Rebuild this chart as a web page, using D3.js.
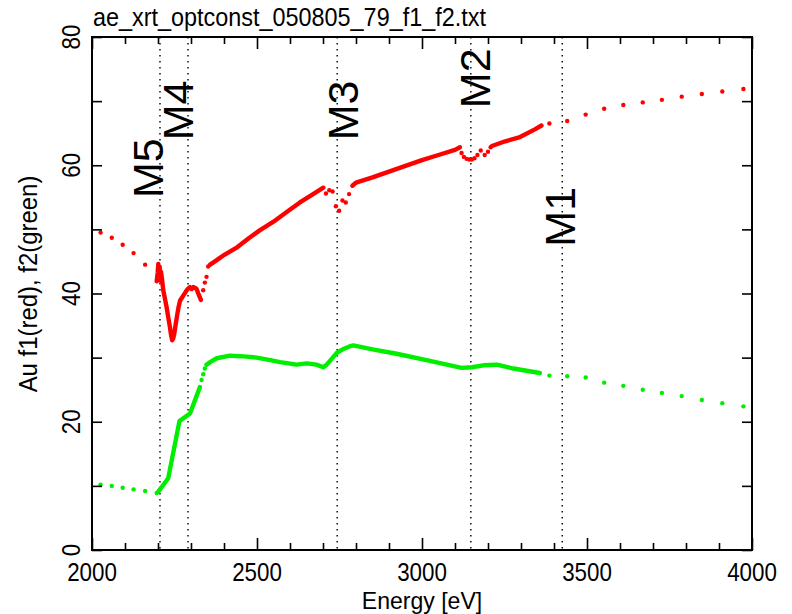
<!DOCTYPE html>
<html>
<head>
<meta charset="utf-8">
<script src="https://cdn.jsdelivr.net/npm/d3@7"></script>
<style>
  body { margin: 0; background: #fff; }
  text { font-family: 'Liberation Sans', Arial, sans-serif; fill: #000; }
</style>
</head>
<body>
<div id="chart"></div>
<script>
// values
var title = 'ae_xrt_optconst_050805_79_f1_f2.txt';
var xTicks = [2000, 2500, 3000, 3500, 4000];
var yTicks = [0, 20, 40, 60, 80];
var edgeNames = ['M5', 'M4', 'M3', 'M2', 'M1'];
var edgeEnergy = [2206, 2291, 2743, 3148, 3425];
var edgeLabelE = [2215, 2306, 2806, 3206, 3464];
var edgeLabelV = [54.9, 63.9, 63.9, 68.9, 47.3];

// f1 (red): lone dots, and runs dense enough to look like a thick line
var f1Dots = [
  [2026, 49.5], [2060, 48.7], [2093, 47.6], [2126, 46.3], [2161, 44.5],
  [2337, 40.5], [2342, 41.7], [2347, 42.6], [2352, 44.2],
  [2709, 55.6], [2719, 56.1], [2729, 55.9], [2739, 53.6], [2749, 52.9],
  [2759, 54.5], [2769, 54.2], [2779, 55.5],
  [3120, 61.9], [3127, 61.3], [3135, 61.0], [3143, 60.9], [3151, 60.9],
  [3159, 61.1], [3168, 61.6], [3178, 62.3], [3190, 61.6], [3200, 62.1], [3208, 62.8],
  [3386, 66.5], [3440, 66.9], [3496, 67.9], [3552, 68.8], [3610, 69.4],
  [3669, 69.8], [3727, 70.2], [3787, 70.7], [3848, 71.1], [3910, 71.5], [3974, 71.9]
];
var f1Runs = [
  [[2196, 41.9], [2199, 43.2], [2201, 44.6], [2203, 43.0], [2205, 44.2], [2207, 42.0],
   [2209, 43.4], [2212, 42.3], [2216, 40.5], [2221, 39.2], [2226, 37.9], [2231, 36.3],
   [2236, 34.8], [2240, 33.4], [2243, 32.7], [2246, 33.0], [2249, 33.6], [2253, 35.0],
   [2257, 36.3], [2262, 37.8], [2267, 38.9], [2272, 39.3], [2277, 39.7], [2282, 40.1],
   [2287, 40.5], [2292, 40.8], [2297, 41.0], [2302, 40.7], [2307, 41.0], [2312, 40.9],
   [2317, 40.7], [2322, 40.0], [2326, 39.5], [2330, 39.0]],
  [[2358, 44.5], [2378, 45.2], [2397, 45.9], [2437, 47.1], [2477, 48.7], [2507, 49.8],
   [2550, 51.2], [2590, 52.7], [2630, 54.2], [2670, 55.5], [2701, 56.5]],
  [[2789, 56.8], [2800, 57.3], [2850, 58.1], [2900, 59.0], [2950, 59.9], [3000, 60.8],
   [3050, 61.6], [3100, 62.4], [3115, 62.8]],
  [[3212, 63.0], [3250, 63.7], [3297, 64.4], [3342, 65.6], [3362, 66.2]]
];

// f2 (green)
var f2Dots = [
  [2026, 10.2], [2060, 10.0], [2093, 9.7], [2126, 9.45], [2161, 9.2], [2196, 8.9],
  [2332, 26.5], [2337, 27.4], [2342, 28.3],
  [3386, 27.2], [3440, 27.1], [3496, 26.9], [3552, 26.1], [3610, 25.6],
  [3669, 25.0], [3727, 24.5], [3787, 24.0], [3848, 23.4], [3910, 22.9], [3974, 22.4]
];
var f2Runs = [
  [[2201, 9.1], [2231, 11.2], [2265, 20.1], [2297, 21.3], [2327, 25.4]],
  [[2347, 28.9], [2358, 29.3], [2378, 29.9], [2418, 30.3], [2460, 30.2], [2499, 30.0],
   [2540, 29.6], [2570, 29.3], [2620, 28.9], [2651, 29.1], [2680, 28.9], [2701, 28.5],
   [2711, 28.9], [2721, 29.5], [2743, 30.8], [2760, 31.3], [2780, 31.75], [2792, 31.9],
   [2850, 31.3], [2923, 30.6], [3024, 29.5], [3120, 28.4], [3151, 28.5], [3186, 28.8],
   [3227, 28.9], [3277, 28.3], [3357, 27.6]]
];

var width = 792, height = 614;
var plotL = 92, plotR = 752, plotT = 37, plotB = 550;

var svg = d3.select('#chart').append('svg')
    .attr('width', width)
    .attr('height', height);

var x = d3.scaleLinear().domain([2000, 4000]).range([plotL, plotR]);
var y = d3.scaleLinear().domain([0, 80]).range([plotB, plotT]);

// squeeze text a bit, the original lettering is narrow
function squeeze(sel, k) {
  sel.each(function() {
    var n = this.getComputedTextLength();
    d3.select(this).attr('textLength', n * k).attr('lengthAdjust', 'spacingAndGlyphs');
  });
}

// edge markers
svg.append('g').selectAll('line')
  .data(edgeEnergy)
  .enter().append('line')
  .attr('x1', function(d) { return x(d); })
  .attr('x2', function(d) { return x(d); })
  .attr('y1', plotT)
  .attr('y2', plotB)
  .attr('stroke', '#000')
  .attr('stroke-width', 1.4)
  .attr('stroke-dasharray', '1.5,4.5');

svg.append('g').selectAll('text')
  .data(edgeNames)
  .enter().append('text')
  .attr('transform', function(d, i) {
    return 'translate(' + x(edgeLabelE[i]) + ',' + y(edgeLabelV[i]) + ') rotate(-90)';
  })
  .style('font-size', '43px')
  .text(function(d) { return d; });

// curves
var line = d3.line()
  .x(function(d) { return x(d[0]); })
  .y(function(d) { return y(d[1]); });

function drawSeries(dots, runs, color) {
  var g = svg.append('g');
  g.selectAll('path')
    .data(runs)
    .enter().append('path')
    .attr('d', line)
    .attr('fill', 'none')
    .attr('stroke', color)
    .attr('stroke-width', 4.4)
    .attr('stroke-linejoin', 'round')
    .attr('stroke-linecap', 'round');
  g.selectAll('circle')
    .data(dots)
    .enter().append('circle')
    .attr('cx', function(d) { return x(d[0]); })
    .attr('cy', function(d) { return y(d[1]); })
    .attr('r', 2.2)
    .attr('fill', color);
}
drawSeries(f1Dots, f1Runs, '#ff0000');
drawSeries(f2Dots, f2Runs, '#00ee00');

// axes, ticks point inward
var xMinor = d3.range(2000, 4001, 100).filter(function(d) { return d % 500 !== 0; });
var yMinor = d3.range(0, 81, 10);

function tickAxis(axis, vals, size, tr) {
  var g = svg.append('g')
    .attr('transform', tr)
    .call(axis.tickValues(vals).tickSize(size).tickFormat(''));
  g.select('.domain').remove();
  g.selectAll('line').attr('stroke', '#000').attr('stroke-width', 1.6);
}
tickAxis(d3.axisBottom(x), xTicks, -12, 'translate(0,' + plotB + ')');
tickAxis(d3.axisBottom(x), xMinor, -7, 'translate(0,' + plotB + ')');
tickAxis(d3.axisTop(x), xTicks, -12, 'translate(0,' + plotT + ')');
tickAxis(d3.axisTop(x), xMinor, -7, 'translate(0,' + plotT + ')');
tickAxis(d3.axisLeft(y), yMinor, -10, 'translate(' + plotL + ',0)');
tickAxis(d3.axisRight(y), yMinor, -10, 'translate(' + plotR + ',0)');

svg.append('rect')
  .attr('x', plotL).attr('y', plotT)
  .attr('width', plotR - plotL).attr('height', plotB - plotT)
  .attr('fill', 'none')
  .attr('stroke', '#000')
  .attr('stroke-width', 2);

// tick labels
svg.append('g').selectAll('text')
  .data(xTicks)
  .enter().append('text')
  .attr('x', function(d) { return x(d); })
  .attr('y', 581)
  .attr('text-anchor', 'middle')
  .style('font-size', '26px')
  .text(function(d) { return d; })
  .call(squeeze, 0.86);

svg.append('g').selectAll('text')
  .data(yTicks)
  .enter().append('text')
  .attr('transform', function(d) { return 'translate(80,' + y(d) + ') rotate(-90)'; })
  .attr('text-anchor', 'middle')
  .style('font-size', '26px')
  .text(function(d) { return d; })
  .call(squeeze, 0.86);

// titles
svg.append('text')
  .attr('x', 93)
  .attr('y', 26)
  .style('font-size', '26px')
  .text(title)
  .call(squeeze, 0.9);

svg.append('text')
  .attr('x', (plotL + plotR) / 2)
  .attr('y', 609)
  .attr('text-anchor', 'middle')
  .style('font-size', '24px')
  .text('Energy [eV]')
  .call(squeeze, 0.96);

svg.append('text')
  .attr('transform', 'translate(37,284) rotate(-90)')
  .attr('text-anchor', 'middle')
  .style('font-size', '26px')
  .text('Au f1(red), f2(green)')
  .call(squeeze, 0.92);
</script>
</body>
</html>
